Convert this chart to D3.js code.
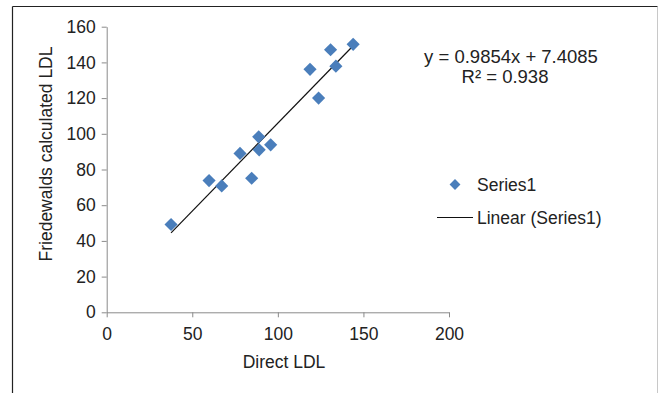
<!DOCTYPE html>
<html>
<head>
<meta charset="utf-8">
<script src="https://cdn.jsdelivr.net/npm/d3@7"></script>
<style>
  body { margin: 0; background: #fff; }
  svg text { font-family: "Liberation Sans", Arial, sans-serif; fill: #222; }
</style>
</head>
<body>
<div id="chart"></div>
<script>
// data
const directLdl = [37.6, 59.8, 67.2, 77.9, 84.7, 88.8, 89.1, 95.8, 118.8, 123.8, 130.8, 133.9, 144];
const friedLdl  = [49.2, 73.8, 70.8, 89.0, 75.1, 98.3, 91.0, 93.8, 136.1, 120.0, 147.1, 137.9, 150.1];
const xTicks = [0, 50, 100, 150, 200];
const yTicks = [0, 20, 40, 60, 80, 100, 120, 140, 160];
const slope = 0.9854, intercept = 7.4085, rSquared = 0.938;

const width = 659, height = 393;

const svg = d3.select("#chart").append("svg")
  .attr("width", width)
  .attr("height", height);

// outer frame
svg.append("line").attr("x1", 12.5).attr("x2", 657.5).attr("y1", 6.5).attr("y2", 6.5)
  .attr("stroke", "#222").attr("stroke-width", 1.2);
svg.append("line").attr("x1", 12.5).attr("x2", 12.5).attr("y1", 6.5).attr("y2", height)
  .attr("stroke", "#222").attr("stroke-width", 1.2);
svg.append("line").attr("x1", 657.5).attr("x2", 657.5).attr("y1", 7).attr("y2", height)
  .attr("stroke", "#c8c8c8").attr("stroke-width", 1);

const x = d3.scaleLinear().domain([0, 200]).range([106.7, 449]);
const y = d3.scaleLinear().domain([0, 160]).range([312.3, 26.7]);

// y axis
const gy = svg.append("g")
  .attr("transform", "translate(" + x(0) + ",0)")
  .call(d3.axisLeft(y).tickValues(yTicks).tickSize(5).tickPadding(6).tickSizeOuter(0));
// x axis
const gx = svg.append("g")
  .attr("transform", "translate(0," + y(0) + ")")
  .call(d3.axisBottom(x).tickValues(xTicks).tickSize(5).tickPadding(10).tickSizeOuter(0));

[gx, gy].forEach(g => {
  g.select(".domain").attr("stroke", "#8a8a8a");
  g.selectAll(".tick line").attr("stroke", "#8a8a8a");
  g.selectAll(".tick text").style("font-size", "17.5px").attr("fill", "#222");
});

// axis titles
svg.append("text")
  .attr("x", 284).attr("y", 368)
  .attr("text-anchor", "middle")
  .style("font-size", "17.5px")
  .text("Direct LDL");

svg.append("text")
  .attr("transform", "translate(52,154) rotate(-90)")
  .attr("text-anchor", "middle")
  .style("font-size", "17.5px")
  .text("Friedewalds calculated LDL");

// trendline
const xExt = d3.extent(directLdl);
svg.append("line")
  .attr("x1", x(xExt[0])).attr("y1", y(slope * xExt[0] + intercept))
  .attr("x2", x(xExt[1])).attr("y2", y(slope * xExt[1] + intercept))
  .attr("stroke", "#111").attr("stroke-width", 1.2);

// points
const diamond = d3.symbol().type(d3.symbolDiamond2).size(110);
svg.selectAll("path.pt")
  .data(directLdl.map((d, i) => [d, friedLdl[i]]))
  .enter()
  .append("path")
  .attr("class", "pt")
  .attr("d", diamond)
  .attr("transform", d => "translate(" + x(d[0]) + "," + y(d[1]) + ")")
  .attr("fill", "#4a7ebb");

// equation
svg.append("text")
  .attr("x", 511).attr("y", 63)
  .attr("text-anchor", "middle")
  .style("font-size", "18.5px")
  .text("y = " + slope + "x + " + intercept);
svg.append("text")
  .attr("x", 505).attr("y", 83)
  .attr("text-anchor", "middle")
  .style("font-size", "18.5px")
  .text("R² = " + rSquared);

// legend
svg.append("path")
  .attr("d", d3.symbol().type(d3.symbolDiamond2).size(75))
  .attr("transform", "translate(455,184.5)")
  .attr("fill", "#4a7ebb");
svg.append("text")
  .attr("x", 477).attr("y", 190.5)
  .style("font-size", "17.5px")
  .text("Series1");
svg.append("line")
  .attr("x1", 437).attr("x2", 473).attr("y1", 217.5).attr("y2", 217.5)
  .attr("stroke", "#111").attr("stroke-width", 1.2);
svg.append("text")
  .attr("x", 477).attr("y", 223.5)
  .style("font-size", "17.5px")
  .text("Linear (Series1)");
</script>
</body>
</html>
